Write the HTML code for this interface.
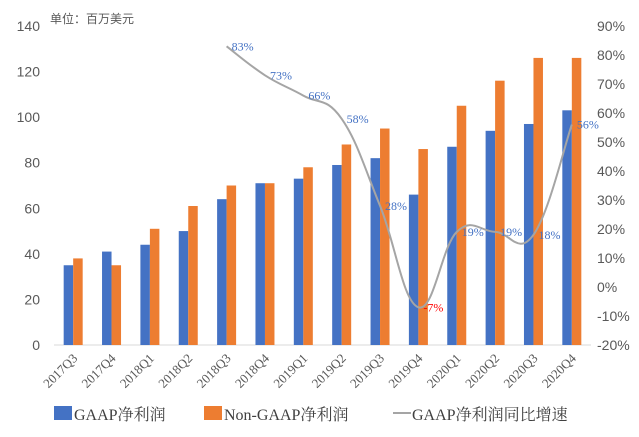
<!DOCTYPE html>
<html><head><meta charset="utf-8"><style>
html,body{margin:0;padding:0;background:#fff;}
svg{display:block;}
</style></head><body>
<svg id="chart" width="639" height="437" viewBox="0 0 639 437" xmlns="http://www.w3.org/2000/svg">
<text x="50" y="23" font-family="Liberation Sans, Noto Sans CJK SC, sans-serif" font-size="12" fill="#595959">单位：百万美元</text>
<g id="axes"></g>
<g id="bars"></g>
<g id="line"></g>
<g id="legend" font-family="Liberation Serif, Noto Serif CJK SC, serif" font-size="16" fill="#404040">
<rect x="54" y="406" width="18" height="14" fill="#4472C4"/>
<text x="74" y="420">GAAP净利润</text>
<rect x="204" y="406" width="18" height="14" fill="#ED7D31"/>
<text x="224" y="420">Non-GAAP净利润</text>
<line x1="393" y1="413" x2="411" y2="413" stroke="#A5A5A5" stroke-width="2"/>
<text x="412" y="420">GAAP净利润同比增速</text>
</g>
</svg>
<script>
const categories=["2017Q3","2017Q4","2018Q1","2018Q2","2018Q3","2018Q4","2019Q1","2019Q2","2019Q3","2019Q4","2020Q1","2020Q2","2020Q3","2020Q4"];
const gaap=[35,41,44,50,64,71,73,79,82,66,87,94,97,103];
const nonGaap=[38,35,51,61,70,71,78,88,95,86,105,116,126,126];
const growth=[null,null,null,null,83,73,66,58,28,-7,19,19,18,56];
const leftTicks=[0,20,40,60,80,100,120,140];
const rightTicks=[-20,-10,0,10,20,30,40,50,60,70,80,90];

const NS="http://www.w3.org/2000/svg";
const X0=54,X1=591,YB=345,YT=26;
const cw=(X1-X0)/categories.length;
const xC=i=>X0+cw*(i+0.5);
const yL=v=>YB-(v/140)*(YB-YT);
const yR=v=>YB-((v+20)/110)*(YB-YT);
function mk(tag,attrs,parent){const e=document.createElementNS(NS,tag);for(const k in attrs)e.setAttribute(k,attrs[k]);parent.appendChild(e);return e;}
const axes=document.getElementById('axes'),bars=document.getElementById('bars'),line=document.getElementById('line');

leftTicks.forEach(t=>{const e=mk('text',{x:40,y:yL(t)+5,'text-anchor':'end','font-family':'Liberation Sans, sans-serif','font-size':'14',fill:'#595959'},axes);e.textContent=t;

});
rightTicks.forEach(t=>{const e=mk('text',{x:597,y:yR(t)+5,'font-family':'Liberation Sans, sans-serif','font-size':'14',fill:'#595959'},axes);e.textContent=t+'%';

});
const base=mk('line',{x1:X0,x2:X1,y1:YB,y2:YB,stroke:'#D9D9D9','stroke-width':1},axes);


categories.forEach((c,i)=>{const x=xC(i)+5,y=YB+14;const e=mk('text',{x:x,y:y,'text-anchor':'end',transform:`rotate(-45 ${x} ${y})`,'font-family':'Liberation Serif, serif','font-size':'13',fill:'#595959'},axes);e.textContent=c;

});

const bw=9.5;
categories.forEach((c,i)=>{
const b=mk('rect',{x:xC(i)-bw,y:yL(gaap[i]),width:bw,height:YB-yL(gaap[i]),fill:'#4472C4'},bars);


const o=mk('rect',{x:xC(i),y:yL(nonGaap[i]),width:bw,height:YB-yL(nonGaap[i]),fill:'#ED7D31'},bars);


});

const pts=[];growth.forEach((g,i)=>{if(g!==null)pts.push([xC(i),yR(g),g]);});
let d=`M${pts[0][0]},${pts[0][1]}`;
for(let i=0;i<pts.length-1;i++){const p0=pts[Math.max(0,i-1)],p1=pts[i],p2=pts[i+1],p3=pts[Math.min(pts.length-1,i+2)];const t=0.2;
const c1x=p1[0]+(p2[0]-p0[0])*t,c1y=p1[1]+(p2[1]-p0[1])*t,c2x=p2[0]-(p3[0]-p1[0])*t,c2y=p2[1]-(p3[1]-p1[1])*t;
d+=` C${c1x},${c1y} ${c2x},${c2y} ${p2[0]},${p2[1]}`;}
const pl=mk('path',{d:d,fill:'none',stroke:'#A5A5A5','stroke-width':2},line);


pts.forEach(p=>{const e=mk('text',{x:p[0]+5,y:p[1]+4,'font-family':'Liberation Serif, serif','font-size':'12',fill:p[2]<0?'#FF0000':'#4472C4'},line);e.textContent=p[2]+'%';

});
</script>
</body></html>
